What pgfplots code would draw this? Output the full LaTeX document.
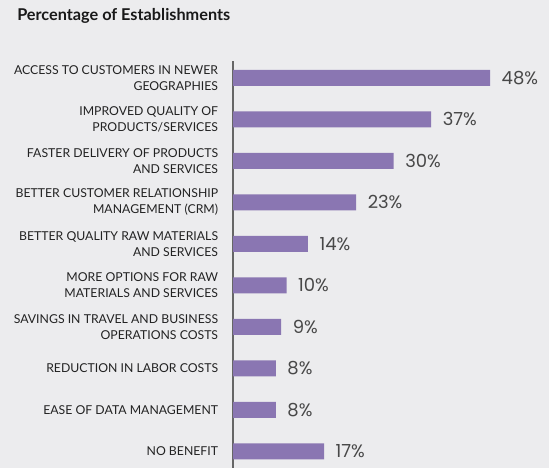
\documentclass[border=0pt]{standalone}
\usepackage{pgfplots}
\pgfplotsset{compat=1.18}
\usepackage{fontspec}
\setmainfont{Lato}
\newfontfamily\valfont{Poppins}
\definecolor{bg}{HTML}{ECECEE}
\definecolor{barc}{HTML}{8A76B2}
\definecolor{labc}{HTML}{222222}
\definecolor{valc}{HTML}{484848}
\begin{document}
\begin{tikzpicture}
% background, 549x468 px at 0.75pt per px
\path[use as bounding box, fill=bg] (0,0) rectangle (411.75pt,351pt);
\node[anchor=base west, inner sep=0pt, font=\fontsize{12.2}{14}\selectfont\bfseries, text=black!90]
  at (12.75pt,335.25pt) {Percentage of Establishments};
\begin{axis}[
  at={(174.75pt,0pt)}, anchor=south west,
  scale only axis,
  width=237pt, height=305pt,
  xbar, bar width=12pt,
  xmin=0, xmax=59,
  ymin=-0.4, ymax=9.4,
  y dir=reverse,
  hide x axis,
  axis y line*=left,
  y axis line style={draw=gray!80!black, line width=0.8pt, -},
  ytick={0,...,9},
  major tick length=0pt,
  yticklabels={
    {ACCESS TO CUSTOMERS IN NEWER\\GEOGRAPHIES},
    {IMPROVED QUALITY OF\\PRODUCTS/SERVICES},
    {FASTER DELIVERY OF PRODUCTS\\AND SERVICES},
    {BETTER CUSTOMER RELATIONSHIP\\MANAGEMENT (CRM)},
    {BETTER QUALITY RAW MATERIALS\\AND SERVICES},
    {MORE OPTIONS FOR RAW\\MATERIALS AND SERVICES},
    {SAVINGS IN TRAVEL AND BUSINESS\\OPERATIONS COSTS},
    {REDUCTION IN LABOR COSTS},
    {EASE OF DATA MANAGEMENT},
    {NO BENEFIT}},
  yticklabel style={align=right, inner sep=0pt, xshift=-11pt,
    font=\fontsize{9.2}{12}\selectfont, text=labc},
  /pgf/number format/assume math mode=true,
  nodes near coords={\pgfmathprintnumber{\pgfplotspointmeta}\%},
  nodes near coords style={anchor=west, inner sep=0pt, xshift=8.5pt,
    font=\valfont\fontsize{13.5}{14}\selectfont, text=valc},
]
\addplot[fill=barc, draw=none] coordinates {
(48,0)
(37,1)
(30,2)
(23,3)
(14,4)
(10,5)
(9,6)
(8,7)
(8,8)
(17,9)
};
\end{axis}
\end{tikzpicture}
\end{document}
